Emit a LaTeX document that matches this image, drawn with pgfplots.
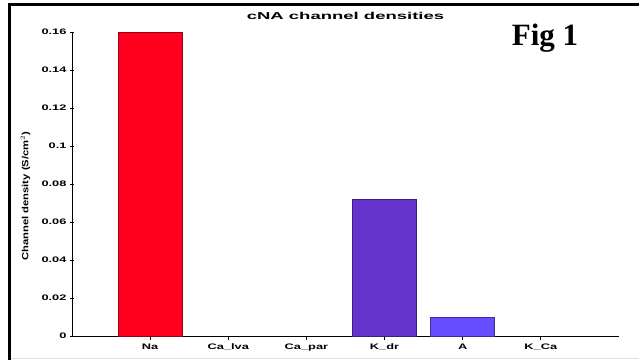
\documentclass[border=0pt]{standalone}
\usepackage{pgfplots}
\pgfplotsset{compat=1.18}
\usepackage{fontspec}
\setmainfont{Liberation Sans}
\newfontfamily\figfont{Liberation Serif}
\newcommand\sx[1]{\scalebox{1.6}[1]{#1}}
\definecolor{naRed}{RGB}{255,0,30}
\definecolor{naEdge}{RGB}{150,0,20}
\definecolor{kdr}{RGB}{102,51,204}
\definecolor{kdrEdge}{RGB}{60,30,130}
\definecolor{aBlue}{RGB}{102,77,255}
\definecolor{aEdge}{RGB}{60,45,150}
\begin{document}
\begin{tikzpicture}[x=1pt,y=1pt]
\path[use as bounding box] (0,0) rectangle (639,360);
\fill[black] (8,0) rectangle (11,357);
\fill[black] (8,354) rectangle (639,357);
\draw[black!12, line width=1pt] (11,2) -- (639,2);
\begin{axis}[
  at={(72pt,24pt)}, anchor=origin,
  scale only axis, width=547pt, height=304pt,
  xmin=0, xmax=7, ymin=0, ymax=0.16,
  axis x line=bottom, axis y line=left,
  axis line style={-, line width=0.9pt},
  xtick={1,2,3,4,5,6},
  xticklabels={\sx{Na},\sx{Ca\_lva},\sx{Ca\_par},\sx{K\_dr},\sx{A},\sx{K\_Ca}},
  ytick={0,0.02,0.04,0.06,0.08,0.1,0.12,0.14,0.16},
  yticklabels={\sx{0},\sx{0.02},\sx{0.04},\sx{0.06},\sx{0.08},\sx{0.1},\sx{0.12},\sx{0.14},\sx{0.16}},
  tick style={black, line width=0.8pt},
  major tick length=4pt,
  xtick align=inside, ytick align=center,
  tick label style={font=\fontsize{8}{9}\selectfont\bfseries},
  ylabel={\scalebox{1.25}[1]{Channel density (S/cm$^2$)}},
  ylabel style={font=\fontsize{9}{10}\selectfont\bfseries, at={(axis description cs:-0.085,0.46)}, anchor=center},
  title={\scalebox{1.85}[1]{cNA channel densities}},
  title style={font=\fontsize{10}{11}\selectfont\bfseries, yshift=3pt},
  ybar, bar width=0.82, bar shift=0pt,
  clip=false,
]
\addplot[fill=naRed, draw=naEdge, line width=0.8pt] coordinates {(1,0.16)};
\addplot[fill=kdr, draw=kdrEdge, line width=0.8pt] coordinates {(4,0.0721)};
\addplot[fill=aBlue, draw=aEdge, line width=0.8pt] coordinates {(5,0.0100)};
\end{axis}
\node[font=\figfont\fontsize{31}{32}\selectfont\bfseries, anchor=base] at (545,315) {Fig 1};
\end{tikzpicture}
\end{document}
